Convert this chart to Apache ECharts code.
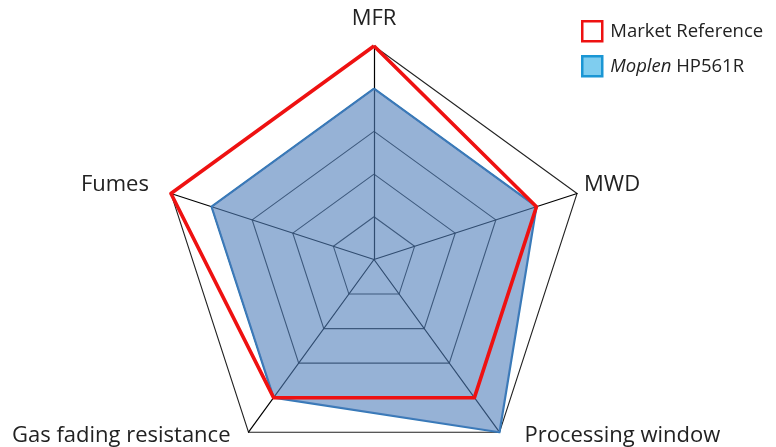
<!DOCTYPE html>
<html><head><meta charset="utf-8">
<script src="https://cdn.jsdelivr.net/npm/echarts@6/dist/echarts.min.js"></script>
<style>html,body{margin:0;padding:0;background:#fff}#c{width:776px;height:447px}</style>
</head><body><div id="c"></div>
<script>
// indicators in counterclockwise order starting from top
const indicators = ['MFR', 'Fumes', 'Gas fading resistance', 'Processing window', 'MWD'];
const maxValue = 5;
const marketReference = [5, 5, 4, 4, 4];
const moplen = [4, 4, 4, 5, 4];
const seriesNames = ['Market Reference', 'Moplen HP561R'];

const CX = 374, CY = 259.5, R = 213.5;
// label placement relative to each outer vertex: [dx, dy, align]
const labelPlacement = [
  [0, -27, 'center'],
  [-22, -9, 'right'],
  [-18, 4, 'right'],
  [25, 4, 'left'],
  [7, -9, 'left']
];
const labelFont = {fontSize: 22, fontFamily: 'Open Sans', fill: '#222'};

const graphics = indicators.map((name, i) => {
  const a = (90 + i * 72) * Math.PI / 180;
  const vx = CX + R * Math.cos(a), vy = CY - R * Math.sin(a);
  const p = labelPlacement[i];
  return {
    type: 'text', x: vx + p[0], y: vy + p[1], silent: true,
    style: Object.assign({text: name, align: p[2], verticalAlign: 'middle'}, labelFont)
  };
});

const chart = echarts.init(document.getElementById('c'), null, {renderer: 'canvas'});
chart.setOption({
  animation: false,
  legend: {
    orient: 'vertical',
    left: 576, top: 15,
    itemWidth: 20, itemHeight: 20, itemGap: 12.5,
    data: [
      {name: seriesNames[0], icon: 'rect', itemStyle: {color: '#fff', borderColor: '#ee1111', borderWidth: 2.5}},
      {name: seriesNames[1], icon: 'rect', itemStyle: {color: '#7fcdef', borderColor: '#1a96d4', borderWidth: 2.5}}
    ],
    formatter: function (n) { return n === seriesNames[1] ? '{i|Moplen} HP561R' : n; },
    textStyle: {fontSize: 18.5, color: '#222', fontFamily: 'Open Sans', padding: [0, 0, 0, 3],
      rich: {i: {fontStyle: 'italic', fontSize: 18.5, color: '#222', fontFamily: 'Open Sans'}}}
  },
  radar: {
    center: [CX, CY],
    radius: R,
    startAngle: 90,
    shape: 'polygon',
    splitNumber: 5,
    axisName: {show: false},
    indicator: indicators.map(n => ({name: n, max: maxValue, min: 0})),
    axisLine: {lineStyle: {color: '#000', width: 1.2}},
    splitLine: {lineStyle: {color: ['#222', '#222', '#222', '#222', '#000'], width: 1.1}},
    splitArea: {show: false}
  },
  graphic: graphics,
  series: [{
    type: 'radar',
    symbol: 'none',
    data: [
      {name: seriesNames[1], value: moplen,
        lineStyle: {color: '#3378b8', width: 2.2},
        areaStyle: {color: 'rgb(80,127,187)', opacity: 0.6},
        itemStyle: {color: '#7fcdef'}},
      {name: seriesNames[0], value: marketReference,
        lineStyle: {color: '#ee1111', width: 3.6},
        itemStyle: {color: '#ee1111'}}
    ]
  }]
});
</script></body></html>
